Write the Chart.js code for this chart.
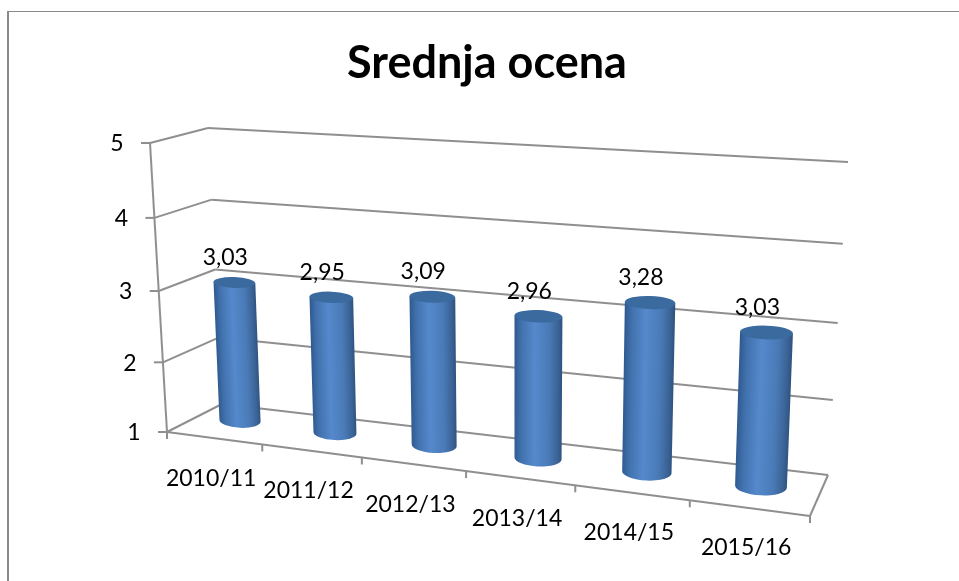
<!DOCTYPE html>
<html>
<head>
<meta charset="utf-8">
<title>Srednja ocena</title>
<script src="https://cdn.jsdelivr.net/npm/chart.js@4"></script>
<style>
html,body{margin:0;padding:0;background:#fff;}
#wrap{position:relative;width:959px;height:581px;overflow:hidden;}
#frame{position:absolute;left:7px;top:11px;right:-5px;bottom:-5px;border-top:1.5px solid #8a8a8a;border-left:2px solid #8a8a8a;}
canvas{position:absolute;left:0;top:0;}
</style>
</head>
<body>
<div id="wrap">
<div id="frame"></div>
<canvas id="chart" width="959" height="581"></canvas>
</div>
<script>
const categories = ["2010/11","2011/12","2012/13","2013/14","2014/15","2015/16"];
const srednjaOcena = [3.03,2.95,3.09,2.96,3.28,3.03];
const axisMin = 1;
const axisMax = 5;

const FONT = "Lato, 'Open Sans', sans-serif";
const LINE = "#8f8f8f";

// the three planes of the fake 3d box, corners TL TR BR BL
const backWall = makePlane([208,128],[848,162],[828,475],[222,404]);
const barPlane = makePlane([181,140],[834,180],[820,494],[194,415]);
const frontPlane = makePlane([150,143],[827,186],[810,516],[167,432]);

let plotArea = null;

function makePlane(p0,p1,p2,p3){
  let dx1=p1[0]-p2[0], dx2=p3[0]-p2[0], sx=p0[0]-p1[0]+p2[0]-p3[0];
  let dy1=p1[1]-p2[1], dy2=p3[1]-p2[1], sy=p0[1]-p1[1]+p2[1]-p3[1];
  let den=dx1*dy2-dx2*dy1;
  let g=(sx*dy2-dx2*sy)/den, h=(dx1*sy-sx*dy1)/den;
  let a=p1[0]-p0[0]+g*p1[0], b=p3[0]-p0[0]+h*p3[0];
  let d=p1[1]-p0[1]+g*p1[1], e=p3[1]-p0[1]+h*p3[1];
  return (u,v)=>{
    let w=g*u+h*v+1;
    return [(a*u+b*v+p0[0])/w,(d*u+e*v+p0[1])/w];
  };
}

// chart pixels -> position inside a plane
function project(plane,px,py){
  return plane((px-plotArea.left)/plotArea.width,(py-plotArea.top)/plotArea.height);
}

function line(ctx,a,b){
  ctx.beginPath();
  ctx.moveTo(a[0],a[1]);
  ctx.lineTo(b[0],b[1]);
  ctx.stroke();
}

// centre, radius and tilt of one cylinder end, tilt kept small like the original
function capAt(px,py,half){
  let l = project(barPlane,px-half,py);
  let r = project(barPlane,px+half,py);
  let rot = Math.atan2(r[1]-l[1],r[0]-l[0])*0.4;
  let rx = Math.hypot(r[0]-l[0],r[1]-l[1])/2;
  let cx = (l[0]+r[0])/2, cy = (l[1]+r[1])/2;
  return {
    cx:cx, cy:cy, rx:rx, rot:rot,
    left:[cx-rx*Math.cos(rot),cy-rx*Math.sin(rot)],
    right:[cx+rx*Math.cos(rot),cy+rx*Math.sin(rot)]
  };
}

// bars are drawn as cylinders standing in barPlane
Chart.elements.BarElement.prototype.draw = function(ctx){
  let half = this.width/2;
  let top = capAt(this.x,this.y,half);
  let bot = capAt(this.x,this.base,half);

  // shading runs across the cylinder, square to its axis
  let ax = top.cx-bot.cx, ay = top.cy-bot.cy, len = Math.hypot(ax,ay);
  let nx = -ay/len, ny = ax/len;
  if(nx<0){ nx=-nx; ny=-ny; }
  let mx = (top.cx+bot.cx)/2, my = (top.cy+bot.cy)/2, r = (top.rx+bot.rx)/2;
  let grad = ctx.createLinearGradient(mx-nx*r,my-ny*r,mx+nx*r,my+ny*r);
  grad.addColorStop(0,"#2f5a90");
  grad.addColorStop(0.15,"#4272ae");
  grad.addColorStop(0.42,"#5589cc");
  grad.addColorStop(0.72,"#4a7bb8");
  grad.addColorStop(0.92,"#3a6294");
  grad.addColorStop(1,"#2f5280");

  ctx.save();
  ctx.beginPath();
  ctx.moveTo(top.left[0],top.left[1]);
  ctx.lineTo(bot.left[0],bot.left[1]);
  ctx.ellipse(bot.cx,bot.cy,bot.rx,bot.rx*0.34,bot.rot,Math.PI,0,true);
  ctx.lineTo(top.right[0],top.right[1]);
  ctx.closePath();
  ctx.fillStyle = grad;
  ctx.fill();

  ctx.beginPath();
  ctx.ellipse(top.cx,top.cy,top.rx,top.rx*0.26,top.rot,0,Math.PI*2);
  ctx.fillStyle = "#3b6a9f";
  ctx.fill();
  ctx.restore();
};

const boxPlugin = {
  id:"box",
  beforeDatasetsDraw(chart){
    plotArea = chart.chartArea;
    let ctx = chart.ctx, y = chart.scales.y;
    ctx.save();
    ctx.strokeStyle = LINE;
    ctx.lineWidth = 2;
    ctx.fillStyle = "#000";
    ctx.font = "23px "+FONT;
    ctx.textAlign = "center";
    ctx.textBaseline = "middle";
    y.ticks.forEach(t => {
      let v = (y.getPixelForValue(t.value)-plotArea.top)/plotArea.height;
      let f = frontPlane(0,v);
      line(ctx,backWall(0,v),backWall(1,v));
      line(ctx,f,backWall(0,v));
      line(ctx,[f[0]-9,f[1]],f);
      ctx.fillText(String(t.value),f[0]-33,f[1]+1);
    });
    line(ctx,frontPlane(0,0),frontPlane(0,1));
    line(ctx,frontPlane(0,1),frontPlane(1,1));
    line(ctx,frontPlane(1,1),backWall(1,1));
    for(let i=0;i<=categories.length;i++){
      let p = frontPlane(i/categories.length,1);
      line(ctx,p,[p[0],p[1]+7]);
    }
    let x = chart.scales.x;
    categories.forEach((c,i) => {
      let p = project(frontPlane,x.getPixelForValue(i),plotArea.bottom);
      ctx.fillText(x.getLabelForValue(i),p[0]-3,p[1]+40);
    });
    ctx.restore();
  },
  afterDatasetsDraw(chart){
    let ctx = chart.ctx;
    ctx.save();
    ctx.fillStyle = "#000";
    ctx.font = "23px "+FONT;
    ctx.textAlign = "center";
    ctx.textBaseline = "middle";
    chart.getDatasetMeta(0).data.forEach((bar,i) => {
      let p = project(barPlane,bar.x,bar.y);
      ctx.fillText(srednjaOcena[i].toFixed(2).replace(".",","),p[0]-9,p[1]-25);
    });
    ctx.restore();
  }
};

new Chart(document.getElementById("chart"),{
  type:"bar",
  data:{
    labels:categories,
    datasets:[{
      label:"Srednja ocena",
      data:srednjaOcena,
      base:axisMin,
      clip:false,
      barPercentage:0.44,
      categoryPercentage:1
    }]
  },
  options:{
    responsive:false,
    animation:false,
    layout:{padding:{left:15}},
    scales:{
      x:{display:false},
      y:{display:false,min:axisMin,max:axisMax,ticks:{stepSize:1}}
    },
    plugins:{
      legend:{display:false},
      tooltip:{enabled:false},
      title:{
        display:true,
        text:"Srednja ocena",
        color:"#000",
        font:{family:FONT,size:45,weight:"bold"},
        padding:{top:36,bottom:20}
      }
    }
  },
  plugins:[boxPlugin]
});
</script>
</body>
</html>
